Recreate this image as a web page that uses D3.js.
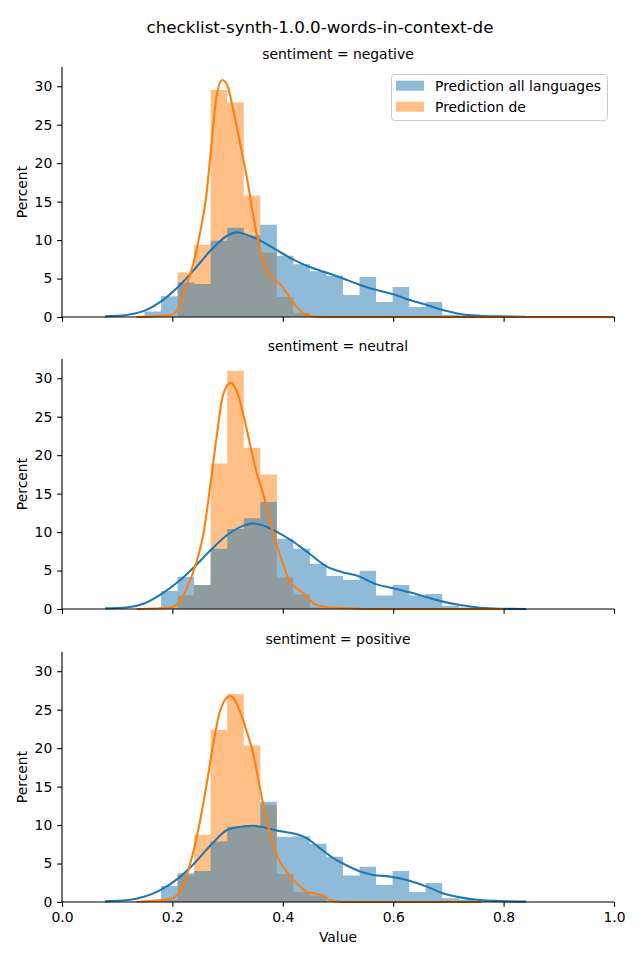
<!DOCTYPE html>
<html>
<head>
<meta charset="utf-8">
<script src="https://cdn.jsdelivr.net/npm/d3@7"></script>
<style>
  body { margin: 0; background: #fff; }
  svg { display: block; }
  text { font-family: "DejaVu Sans", sans-serif; fill: #000; }
</style>
</head>
<body>
<div id="chart"></div>
<script>
// ---------------- DATA ----------------
const title = "checklist-synth-1.0.0-words-in-context-de";
const panelTitles = ["sentiment = negative", "sentiment = neutral", "sentiment = positive"];
const seriesNames = ["Prediction all languages", "Prediction de"];
const xTicks = [0.0, 0.2, 0.4, 0.6, 0.8, 1.0];
const yTicks = [0, 5, 10, 15, 20, 25, 30];

// shared histogram bin edges
const binEdges = [0.1495, 0.1795, 0.2094, 0.2394, 0.2693, 0.2993, 0.3293, 0.3592, 0.3892, 0.4191,
  0.4491, 0.4791, 0.5090, 0.5390, 0.5689, 0.5989, 0.6289, 0.6588, 0.6888, 0.7187, 0.7487,
  0.7787, 0.8086, 0.8386];

// percent per bin
const histAllNeg = [0.7, 2.7, 4.48, 4.3, 9.9, 11.6, 10.6, 12.0, 7.96, 6.87, 5.96, 5.35, 2.87, 5.2, 1.96, 3.9, 1.3, 1.96, 0.3, 0.2, 0.1, 0.1, 0.1];
const histDeNeg  = [0, 0, 5.78, 9.39, 29.5, 27.9, 15.8, 8.4, 2.6, 0.5, 0, 0, 0, 0, 0, 0, 0, 0, 0, 0, 0, 0, 0];
const histAllNeu = [0.1, 2.35, 4.2, 3.13, 7.83, 10.4, 11.8, 13.9, 9.13, 7.83, 5.87, 4.3, 3.78, 4.96, 1.74, 3.13, 1.74, 1.96, 0.43, 0.2, 0.1, 0.05, 0.05];
const histDeNeu  = [0, 0, 1.74, 3.13, 18.9, 30.96, 20.96, 17.5, 4.1, 1.9, 0.2, 0, 0, 0, 0, 0, 0, 0, 0, 0, 0, 0, 0];
const histAllPos = [0.2, 2.09, 3.74, 4.04, 7.87, 9.78, 9.78, 13.04, 8.48, 8.55, 7.57, 5.87, 3.43, 4.57, 2.22, 4.04, 1.3, 2.48, 0.48, 0.3, 0.1, 0.1, 0.05];
const histDePos  = [0, 0.3, 3.5, 8.74, 22.4, 27.0, 20.35, 12.65, 3.65, 1.3, 0.83, 0, 0, 0, 0, 0, 0, 0, 0, 0, 0, 0, 0];

// KDE curves [value, percent-density]
const kdeAllNeg = [[0.078,0.1],[0.117,0.26],[0.150,0.83],[0.179,2.0],[0.211,3.96],[0.240,6.2],[0.270,8.7],[0.300,10.6],[0.316,11.0],[0.330,10.8],[0.360,9.9],[0.390,8.65],[0.420,7.43],[0.449,6.5],[0.480,5.75],[0.508,5.04],[0.540,4.17],[0.570,3.5],[0.600,2.96],[0.630,2.2],[0.661,1.57],[0.690,0.9],[0.721,0.4],[0.757,0.17],[0.793,0.09],[0.841,0.04]];
const kdeDeNeg = [[0.135,0.0],[0.196,0.26],[0.211,1.1],[0.220,3.1],[0.238,7.0],[0.250,10.9],[0.262,16.1],[0.271,22.65],[0.280,28.7],[0.2905,30.8],[0.300,30.0],[0.310,27.0],[0.3225,22.65],[0.3345,18.3],[0.3466,13.1],[0.3587,8.74],[0.371,6.1],[0.383,4.9],[0.395,4.3],[0.407,3.1],[0.419,1.87],[0.431,0.83],[0.449,0.13],[0.480,0.0],[0.700,0.0],[1.0,0.0]];
const kdeAllNeu = [[0.078,0.09],[0.117,0.2],[0.150,0.74],[0.179,1.9],[0.211,3.57],[0.240,5.5],[0.270,7.7],[0.300,9.65],[0.330,10.87],[0.3455,11.13],[0.360,10.96],[0.390,10.0],[0.420,8.7],[0.449,7.15],[0.480,5.5],[0.508,4.78],[0.534,4.35],[0.570,3.2],[0.600,2.7],[0.630,2.17],[0.661,1.52],[0.690,0.96],[0.721,0.52],[0.757,0.17],[0.793,0.04],[0.841,0.0]];
const kdeDeNeu = [[0.135,0.0],[0.196,0.2],[0.211,0.74],[0.226,2.7],[0.244,6.2],[0.256,9.65],[0.268,15.7],[0.280,22.3],[0.292,27.9],[0.306,29.4],[0.3165,28.3],[0.3285,25.3],[0.3406,21.4],[0.3527,17.7],[0.3647,14.9],[0.3768,11.4],[0.389,8.35],[0.401,5.74],[0.413,3.57],[0.425,2.7],[0.437,2.04],[0.449,1.17],[0.461,0.52],[0.480,0.26],[0.516,0.09],[0.560,0.0],[0.800,0.0]];
const kdeAllPos = [[0.078,0.09],[0.117,0.22],[0.150,0.7],[0.179,1.57],[0.211,3.1],[0.240,5.04],[0.270,7.43],[0.300,9.4],[0.330,9.83],[0.3455,9.91],[0.360,9.78],[0.390,9.28],[0.420,8.9],[0.443,8.3],[0.467,7.0],[0.4915,5.7],[0.516,4.74],[0.540,3.96],[0.564,3.52],[0.594,3.3],[0.6245,2.87],[0.661,2.0],[0.690,1.13],[0.721,0.6],[0.757,0.26],[0.793,0.13],[0.841,0.05]];
const kdeDePos = [[0.135,0.04],[0.196,0.4],[0.211,1.13],[0.226,3.5],[0.238,6.57],[0.250,10.5],[0.262,15.3],[0.274,20.5],[0.286,24.8],[0.305,26.8],[0.3225,24.8],[0.3345,22.2],[0.3466,19.2],[0.3587,14.8],[0.371,10.5],[0.383,7.43],[0.395,5.2],[0.407,3.96],[0.419,2.87],[0.431,2.0],[0.443,1.35],[0.455,1.13],[0.4734,0.83],[0.4855,0.26],[0.504,0.04],[0.530,0.0],[0.760,0.0]];

// ---------------- LAYOUT ----------------
const W = 640, H = 960;
const colors = ["#1f77b4", "#ff7f0e"];
const panelTops = [67, 359, 652];
const panelH = 250;
const left = 62, right = 614;

const panels = [
  { title: panelTitles[0], all: histAllNeg, de: histDeNeg, kAll: kdeAllNeg, kDe: kdeDeNeg },
  { title: panelTitles[1], all: histAllNeu, de: histDeNeu, kAll: kdeAllNeu, kDe: kdeDeNeu },
  { title: panelTitles[2], all: histAllPos, de: histDePos, kAll: kdeAllPos, kDe: kdeDePos }
];

const svg = d3.select("#chart").append("svg").attr("width", W).attr("height", H);

svg.append("text").attr("x", W / 2).attr("y", 33).attr("text-anchor", "middle")
  .style("font-size", "16.7px").text(title);

const x = d3.scaleLinear().domain([0, 1]).range([left, right]);

panels.forEach((p, pi) => {
  const top = panelTops[pi];
  const y = d3.scaleLinear().domain([0, 32.5]).range([top + panelH, top]);
  const g = svg.append("g");

  const bins = binEdges.slice(0, -1).map((e, i) => ({ x0: e, x1: binEdges[i + 1], i }));

  // orange drawn first, blue on top (seaborn hue order); one path per series to avoid seams
  [[p.de, colors[1]], [p.all, colors[0]]].forEach(([vals, col]) => {
    const path = d3.path();
    bins.filter(b => vals[b.i] > 0).forEach(b => {
      path.rect(x(b.x0), y(vals[b.i]), x(b.x1) - x(b.x0), y(0) - y(vals[b.i]));
    });
    g.append("path").attr("d", path.toString())
      .attr("fill", col).attr("fill-opacity", 0.5);
  });

  const line = d3.line().x(d => x(d[0])).y(d => y(d[1])).curve(d3.curveMonotoneX);
  g.append("path").datum(p.kAll).attr("d", line).attr("fill", "none")
    .attr("stroke", colors[0]).attr("stroke-width", 2.08).attr("stroke-linejoin", "round");
  g.append("path").datum(p.kDe).attr("d", line).attr("fill", "none")
    .attr("stroke", colors[1]).attr("stroke-width", 2.08).attr("stroke-linejoin", "round");

  // axes
  const yAxis = d3.axisLeft(y).tickValues(yTicks).tickSize(4.86).tickPadding(4.86).tickFormat(d3.format("d"));
  const ya = g.append("g").attr("transform", `translate(${left},0)`).call(yAxis);
  const xAxis = d3.axisBottom(x).tickValues(xTicks).tickSize(4.86).tickPadding(4.86)
    .tickFormat(pi === 2 ? d3.format(".1f") : () => "");
  const xa = g.append("g").attr("transform", `translate(0,${top + panelH})`).call(xAxis);
  [ya, xa].forEach(a => {
    a.select(".domain").attr("stroke", "#000").attr("stroke-width", 1.1);
    a.selectAll(".tick line").attr("stroke", "#000").attr("stroke-width", 1.1);
    a.selectAll(".tick text").style("font-size", "13.9px").attr("fill", "#000")
      .style("font-family", "DejaVu Sans, sans-serif");
  });
  ya.select(".domain").attr("d", `M0,${top + panelH}V${top}`);
  xa.select(".domain").attr("d", `M${left},0H${right}`);

  g.append("text").attr("x", (left + right) / 2).attr("y", top - 8.3)
    .attr("text-anchor", "middle").style("font-size", "13.9px").text(p.title);

  g.append("text").attr("transform", `translate(27,${top + panelH / 2}) rotate(-90)`)
    .attr("text-anchor", "middle").style("font-size", "13.9px").text("Percent");
});

svg.append("text").attr("x", (left + right) / 2).attr("y", 942).attr("text-anchor", "middle")
  .style("font-size", "13.9px").text("Value");

// legend
const lg = svg.append("g");
lg.append("rect").attr("x", 391.5).attr("y", 74.5).attr("width", 216).attr("height", 46)
  .attr("rx", 3).attr("fill", "#fff").attr("fill-opacity", 0.8).attr("stroke", "#cccccc").attr("stroke-width", 1);
seriesNames.forEach((n, i) => {
  lg.append("rect").attr("x", 396).attr("y", 80.7 + i * 21).attr("width", 28).attr("height", 10)
    .attr("fill", colors[i]).attr("fill-opacity", 0.5);
  lg.append("text").attr("x", 435).attr("y", 90.7 + i * 21).style("font-size", "13.9px").text(n);
});
</script>
</body>
</html>
